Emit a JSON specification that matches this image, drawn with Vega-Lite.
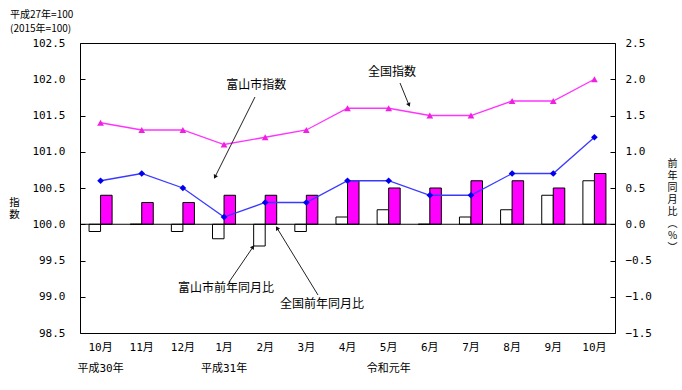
{
  "$schema": "https://vega.github.io/schema/vega-lite/v6.json",
  "width": 535,
  "height": 290,
  "autosize": {"type": "none"},
  "padding": {"left": 80, "top": 43, "right": 67, "bottom": 57},
  "title": {
    "text": "平成27年=100",
    "subtitle": "(2015年=100)",
    "anchor": "start",
    "frame": "group",
    "dx": -70,
    "offset": 3,
    "font": "Noto Sans CJK JP",
    "subtitleFont": "Noto Sans CJK JP",
    "fontSize": 10,
    "subtitleFontSize": 10,
    "fontWeight": "normal",
    "subtitlePadding": 4,
    "color": "black",
    "subtitleColor": "black"
  },
  "datasets": {
    "idx": [
      {"m": "2018-10", "toyama": 100.6, "zenkoku": 101.4},
      {"m": "2018-11", "toyama": 100.7, "zenkoku": 101.3},
      {"m": "2018-12", "toyama": 100.5, "zenkoku": 101.3},
      {"m": "2019-01", "toyama": 100.1, "zenkoku": 101.1},
      {"m": "2019-02", "toyama": 100.3, "zenkoku": 101.2},
      {"m": "2019-03", "toyama": 100.3, "zenkoku": 101.3},
      {"m": "2019-04", "toyama": 100.6, "zenkoku": 101.6},
      {"m": "2019-05", "toyama": 100.6, "zenkoku": 101.6},
      {"m": "2019-06", "toyama": 100.4, "zenkoku": 101.5},
      {"m": "2019-07", "toyama": 100.4, "zenkoku": 101.5},
      {"m": "2019-08", "toyama": 100.7, "zenkoku": 101.7},
      {"m": "2019-09", "toyama": 100.7, "zenkoku": 101.7},
      {"m": "2019-10", "toyama": 101.2, "zenkoku": 102.0}
    ],
    "pct": [
      {"m": "2018-10", "series": "富山市", "v": -0.1},
      {"m": "2018-10", "series": "全国", "v": 0.4},
      {"m": "2018-11", "series": "富山市", "v": 0.0},
      {"m": "2018-11", "series": "全国", "v": 0.3},
      {"m": "2018-12", "series": "富山市", "v": -0.1},
      {"m": "2018-12", "series": "全国", "v": 0.3},
      {"m": "2019-01", "series": "富山市", "v": -0.2},
      {"m": "2019-01", "series": "全国", "v": 0.4},
      {"m": "2019-02", "series": "富山市", "v": -0.3},
      {"m": "2019-02", "series": "全国", "v": 0.4},
      {"m": "2019-03", "series": "富山市", "v": -0.1},
      {"m": "2019-03", "series": "全国", "v": 0.4},
      {"m": "2019-04", "series": "富山市", "v": 0.1},
      {"m": "2019-04", "series": "全国", "v": 0.6},
      {"m": "2019-05", "series": "富山市", "v": 0.2},
      {"m": "2019-05", "series": "全国", "v": 0.5},
      {"m": "2019-06", "series": "富山市", "v": 0.0},
      {"m": "2019-06", "series": "全国", "v": 0.5},
      {"m": "2019-07", "series": "富山市", "v": 0.1},
      {"m": "2019-07", "series": "全国", "v": 0.6},
      {"m": "2019-08", "series": "富山市", "v": 0.2},
      {"m": "2019-08", "series": "全国", "v": 0.6},
      {"m": "2019-09", "series": "富山市", "v": 0.4},
      {"m": "2019-09", "series": "全国", "v": 0.5},
      {"m": "2019-10", "series": "富山市", "v": 0.6},
      {"m": "2019-10", "series": "全国", "v": 0.7}
    ],
    "labels": [
      {"x": 3.78, "y": 101.92, "label": "富山市指数"},
      {"x": 7.08, "y": 102.10, "label": "全国指数"},
      {"x": 3.05, "y": 99.12, "label": "富山市前年同月比"},
      {"x": 5.38, "y": 98.90, "label": "全国前年同月比"}
    ],
    "arrows": [
      {"x1": 3.752, "y1": 101.755, "x2": 2.78, "y2": 100.652, "angle": 206.6},
      {"x1": 7.276, "y1": 101.948, "x2": 7.494, "y2": 101.645, "angle": 157.8},
      {"x1": 3.121, "y1": 99.203, "x2": 3.704, "y2": 99.686, "angle": 34.4},
      {"x1": 5.283, "y1": 99.024, "x2": 4.287, "y2": 99.948, "angle": 328.5}
    ]
  },
  "layer": [
    {
      "data": {"name": "pct"},
      "mark": {"type": "bar", "stroke": "black", "strokeWidth": 1},
      "encoding": {
        "x": {
          "field": "m",
          "type": "nominal",
          "scale": {"type": "band", "domain": ["2018-10","2018-11","2018-12","2019-01","2019-02","2019-03","2019-04","2019-05","2019-06","2019-07","2019-08","2019-09","2019-10"], "paddingInner": 0.44, "paddingOuter": 0.22},
          "axis": {
            "orient": "bottom",
            "title": null,
            "ticks": false,
            "domain": false,
            "labelAngle": 0,
            "labelFont": "DejaVu Sans Mono, Noto Sans CJK JP",
            "labelFontSize": 11,
            "labelPadding": 8,
            "labelLineHeight": 21,
            "labelExpr": "datum.value == '2018-10' ? ['10月','平成30年'] : datum.value == '2019-01' ? ['1月','平成31年'] : datum.value == '2019-05' ? ['5月','令和元年'] : toNumber(slice(datum.value, 5)) + '月'"
          }
        },
        "xOffset": {"field": "series", "type": "nominal", "scale": {"domain": ["富山市", "全国"], "paddingInner": 0, "paddingOuter": 0}},
        "y": {
          "field": "v",
          "type": "quantitative",
          "scale": {"domain": [-1.5, 2.5], "nice": false, "zero": false},
          "axis": {
            "orient": "right",
            "values": [-1.5, -1, -0.5, 0, 0.5, 1, 1.5, 2, 2.5],
            "format": ".1f",
            "tickSize": -5,
            "tickColor": "black",
            "labelPadding": 15,
            "title": ["前","年","同","月","比","︵","%","︶"],
            "titleAngle": 0,
            "titleX": 57,
            "titleY": 120,
            "titleAlign": "center",
            "titleBaseline": "middle",
            "titleFontSize": 10,
            "titleLineHeight": 12
          }
        },
        "y2": {"datum": 0},
        "fill": {"field": "series", "type": "nominal", "scale": {"domain": ["富山市", "全国"], "range": ["#FFFFFF", "#FF00FF"]}, "legend": null}
      }
    },
    {
      "data": {"values": [{}]},
      "mark": {"type": "rule", "color": "black", "strokeWidth": 1},
      "encoding": {
        "y": {"datum": 100, "type": "quantitative", "scale": {"domain": [98.5, 102.5], "nice": false, "zero": false}, "axis": null}
      }
    },
    {
      "data": {"name": "idx"},
      "mark": {"type": "line", "color": "#FF33FF", "strokeWidth": 1.3},
      "encoding": {
        "x": {"field": "m", "type": "nominal", "scale": {"type": "band", "domain": ["2018-10","2018-11","2018-12","2019-01","2019-02","2019-03","2019-04","2019-05","2019-06","2019-07","2019-08","2019-09","2019-10"], "paddingInner": 0.44, "paddingOuter": 0.22}, "axis": null},
        "y": {"field": "zenkoku", "type": "quantitative", "scale": {"domain": [98.5, 102.5], "nice": false, "zero": false}, "axis": null}
      }
    },
    {
      "data": {"name": "idx"},
      "mark": {"type": "point", "shape": "triangle-up", "filled": true, "color": "#F020E0", "size": 45, "opacity": 1},
      "encoding": {
        "x": {"field": "m", "type": "nominal", "scale": {"type": "band", "domain": ["2018-10","2018-11","2018-12","2019-01","2019-02","2019-03","2019-04","2019-05","2019-06","2019-07","2019-08","2019-09","2019-10"], "paddingInner": 0.44, "paddingOuter": 0.22}, "axis": null},
        "y": {"field": "zenkoku", "type": "quantitative", "scale": {"domain": [98.5, 102.5], "nice": false, "zero": false}, "axis": null}
      }
    },
    {
      "data": {"name": "idx"},
      "mark": {"type": "line", "color": "#3A3AFF", "strokeWidth": 1.3},
      "encoding": {
        "x": {"field": "m", "type": "nominal", "scale": {"type": "band", "domain": ["2018-10","2018-11","2018-12","2019-01","2019-02","2019-03","2019-04","2019-05","2019-06","2019-07","2019-08","2019-09","2019-10"], "paddingInner": 0.44, "paddingOuter": 0.22}, "axis": null},
        "y": {
          "field": "toyama",
          "type": "quantitative",
          "scale": {"domain": [98.5, 102.5], "nice": false, "zero": false},
          "axis": {
            "orient": "left",
            "values": [98.5, 99, 99.5, 100, 100.5, 101, 101.5, 102, 102.5],
            "format": ".1f",
            "tickSize": -5,
            "tickColor": "black",
            "labelPadding": 20,
            "title": ["指","数"],
            "titleAngle": 0,
            "titleX": -66,
            "titleY": 159,
            "titleAlign": "center",
            "titleBaseline": "middle",
            "titleFontSize": 10.5,
            "titleLineHeight": 12
          }
        }
      }
    },
    {
      "data": {"name": "idx"},
      "mark": {"type": "point", "shape": "diamond", "filled": true, "color": "#0000EE", "size": 45, "opacity": 1},
      "encoding": {
        "x": {"field": "m", "type": "nominal", "scale": {"type": "band", "domain": ["2018-10","2018-11","2018-12","2019-01","2019-02","2019-03","2019-04","2019-05","2019-06","2019-07","2019-08","2019-09","2019-10"], "paddingInner": 0.44, "paddingOuter": 0.22}, "axis": null},
        "y": {"field": "toyama", "type": "quantitative", "scale": {"domain": [98.5, 102.5], "nice": false, "zero": false}, "axis": null}
      }
    },
    {
      "data": {"name": "arrows"},
      "mark": {"type": "rule", "color": "#222222", "strokeWidth": 1},
      "encoding": {
        "x": {"field": "x1", "type": "quantitative", "scale": {"domain": [-0.5, 12.5], "nice": false, "zero": false}, "axis": null},
        "y": {"field": "y1", "type": "quantitative", "scale": {"domain": [98.5, 102.5], "nice": false, "zero": false}, "axis": null},
        "x2": {"field": "x2"},
        "y2": {"field": "y2"}
      }
    },
    {
      "data": {"name": "arrows"},
      "mark": {"type": "point", "shape": "triangle-up", "filled": true, "color": "#111111", "size": 22, "opacity": 1},
      "encoding": {
        "x": {"field": "x2", "type": "quantitative", "scale": {"domain": [-0.5, 12.5], "nice": false, "zero": false}, "axis": null},
        "y": {"field": "y2", "type": "quantitative", "scale": {"domain": [98.5, 102.5], "nice": false, "zero": false}, "axis": null},
        "angle": {"field": "angle", "type": "quantitative", "scale": null}
      }
    },
    {
      "data": {"name": "labels"},
      "mark": {"type": "text", "font": "Noto Sans CJK JP", "fontSize": 12, "color": "black", "align": "center", "baseline": "middle"},
      "encoding": {
        "x": {"field": "x", "type": "quantitative", "scale": {"domain": [-0.5, 12.5], "nice": false, "zero": false}, "axis": null},
        "y": {"field": "y", "type": "quantitative", "scale": {"domain": [98.5, 102.5], "nice": false, "zero": false}, "axis": null},
        "text": {"field": "label"}
      }
    }
  ],
  "resolve": {
    "scale": {"x": "independent", "y": "independent"},
    "axis": {"x": "independent", "y": "independent"}
  },
  "config": {
    "view": {"stroke": "black", "strokeWidth": 1},
    "font": "Noto Sans CJK JP",
    "axis": {
      "grid": false,
      "domain": false,
      "labelColor": "black",
      "titleColor": "black",
      "labelFont": "DejaVu Sans Mono",
      "labelFontSize": 11,
      "titleFont": "Noto Sans CJK JP",
      "titleFontSize": 11,
      "titleFontWeight": "normal"
    }
  }
}
